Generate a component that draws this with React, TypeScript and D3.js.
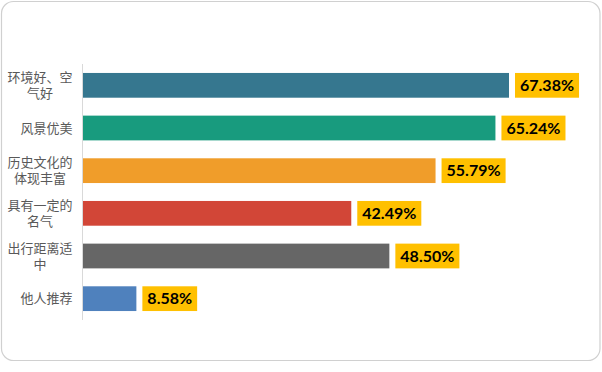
import React, { useEffect, useRef } from 'react'
import * as d3 from 'd3'

// category labels (top to bottom) and their values in percent
const categories = ['环境好、空气好', '风景优美', '历史文化的体现丰富', '具有一定的名气', '出行距离适中', '他人推荐']
const labelLines = [['环境好、空', '气好'], ['风景优美'], ['历史文化的', '体现丰富'], ['具有一定的', '名气'], ['出行距离适', '中'], ['他人推荐']]
const values = [67.38, 65.24, 55.79, 42.49, 48.5, 8.58]
const colors = ['#36778F', '#189B7E', '#F09D2A', '#D24637', '#666666', '#4F81BD']

const W = 602
const H = 372
const margin = { top: 64, bottom: 52, left: 82, right: 93 }

const App = () => {
    const svgRef = useRef<SVGSVGElement>(null)

    useEffect(() => {
        const svg = d3.select(svgRef.current)
        svg.selectAll('*').remove()

        // frame
        svg.append('rect')
            .attr('x', 1.5).attr('y', 1.5)
            .attr('width', 598.5).attr('height', 359)
            .attr('rx', 12)
            .attr('fill', '#fff')
            .attr('stroke', '#D0D0D0')
            .attr('stroke-width', 1.2)

        const y = d3.scaleBand()
            .domain(categories)
            .range([margin.top, H - margin.bottom])
            .paddingInner(0.42)
            .paddingOuter(0.21)

        const x = d3.scaleLinear()
            .domain([0, d3.max(values) as number])
            .range([margin.left, W - margin.right])

        // bars
        svg.append('g')
            .selectAll('rect')
            .data(values)
            .join('rect')
            .attr('x', x(0))
            .attr('y', (d, i) => y(categories[i]) as number)
            .attr('width', d => x(d) - x(0))
            .attr('height', y.bandwidth())
            .attr('fill', (d, i) => colors[i])

        // axis line
        svg.append('line')
            .attr('x1', margin.left + 0.5).attr('x2', margin.left + 0.5)
            .attr('y1', margin.top).attr('y2', H - margin.bottom)
            .attr('stroke', '#D9D9D9')
            .attr('stroke-width', 1)

        // category labels, wrapped lines centred on each other, block right-aligned
        const cw = 13.2
        labelLines.forEach((lines, i) => {
            const cy = (y(categories[i]) as number) + y.bandwidth() / 2
            const maxLen = d3.max(lines, l => l.length) as number
            const cx = 73 - (maxLen * cw) / 2
            const lh = 16
            const t = svg.append('text')
                .attr('font-family', '"Noto Sans CJK SC", sans-serif')
                .attr('font-size', 13)
                .attr('fill', '#595959')
                .attr('text-anchor', 'middle')
            lines.forEach((l, j) => {
                t.append('tspan')
                    .attr('x', cx)
                    .attr('y', cy + (j - (lines.length - 1) / 2) * lh)
                    .attr('dy', '0.35em')
                    .text(l)
            })
        })

        // value labels with yellow boxes
        values.forEach((v, i) => {
            const by = y(categories[i]) as number
            const bx = x(v) + 6
            const g = svg.append('g')
            const box = g.append('rect')
                .attr('x', bx).attr('y', by)
                .attr('height', y.bandwidth())
                .attr('fill', '#FFC000')
            const txt = g.append('text')
                .attr('x', bx + 5)
                .attr('y', by + y.bandwidth() / 2)
                .attr('dy', '0.36em')
                .attr('font-family', 'Lato, sans-serif')
                .attr('font-weight', 'bold')
                .attr('font-size', 16)
                .attr('fill', '#000')
                .text(v.toFixed(2) + '%')
            const tw = (txt.node() as SVGTextElement).getComputedTextLength()
            box.attr('width', tw + 10)
        })
    }, [])

    return (
        <svg
            ref={svgRef}
            width={W}
            height={H}
            style={{ position: 'absolute', left: 0, top: 0, background: '#fff' }}
        />
    )
}

export default App
